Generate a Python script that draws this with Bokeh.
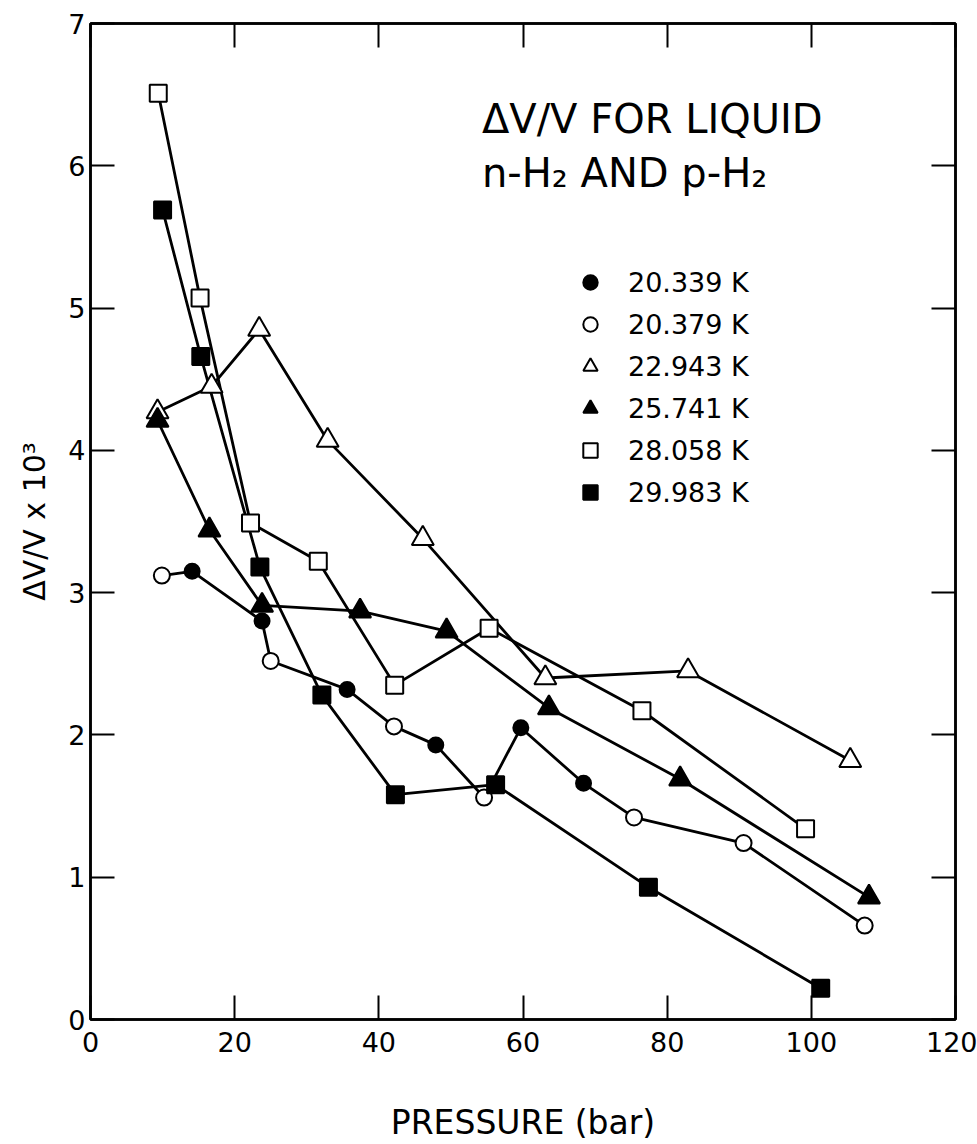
from bokeh.plotting import figure
from bokeh.models import (FixedTicker, LinearAxis, Range1d, Legend, LegendItem, Label,
                          CustomLabelingPolicy)
from bokeh.embed import file_html
from bokeh.resources import INLINE

FONT = "DejaVu Sans"

# pressure (bar) and dV/V x 10^3 for each isotherm
p_20339 = [14.1, 23.8, 35.6, 47.9, 59.7, 68.4]
v_20339 = [3.15, 2.80, 2.32, 1.93, 2.05, 1.66]

p_20379 = [9.9, 25.0, 42.1, 54.6, 75.4, 90.6, 107.4]
v_20379 = [3.12, 2.52, 2.06, 1.56, 1.42, 1.24, 0.66]

p_22943 = [9.3, 16.8, 23.4, 32.9, 46.1, 63.1, 82.9, 105.4]
v_22943 = [4.27, 4.45, 4.85, 4.07, 3.38, 2.40, 2.45, 1.82]

p_25741 = [9.3, 16.5, 23.8, 37.4, 49.4, 63.6, 81.8, 108.0]
v_25741 = [4.21, 3.44, 2.91, 2.87, 2.73, 2.19, 1.69, 0.86]

p_28058 = [9.4, 15.2, 22.2, 31.6, 42.2, 55.3, 76.5, 99.2]
v_28058 = [6.51, 5.07, 3.49, 3.22, 2.35, 2.75, 2.17, 1.34]

p_29983 = [10.0, 15.3, 23.5, 32.1, 42.3, 56.2, 77.4, 101.3]
v_29983 = [5.69, 4.66, 3.18, 2.28, 1.58, 1.65, 0.93, 0.22]

labels = ["20.339 K", "20.379 K", "22.943 K", "25.741 K", "28.058 K", "29.983 K"]
x_ticks = [0, 20, 40, 60, 80, 100, 120]
y_ticks = [0, 1, 2, 3, 4, 5, 6, 7]

p = figure(width=977, height=1144, x_range=Range1d(0, 120), y_range=Range1d(0, 7),
           output_backend="svg", toolbar_location=None,
           min_border_left=90, min_border_right=22, min_border_top=18, min_border_bottom=124)
p.grid.visible = False
p.outline_line_color = "black"
p.outline_line_width = 2.5
p.background_fill_color = "white"
p.border_fill_color = "white"

def style_axis(ax, show_labels=True):
    ax.axis_line_width = 2.5
    ax.axis_line_color = "black"
    ax.major_tick_in = 24
    ax.major_tick_out = 0
    ax.major_tick_line_width = 2
    ax.minor_tick_line_color = None
    ax.major_label_text_font = FONT
    ax.major_label_text_color = "black"
    ax.major_label_text_font_size = "27px"
    if not show_labels:
        ax.major_label_policy = CustomLabelingPolicy(code="return []")
        ax.major_label_standoff = 0

xa = p.xaxis[0]
ya = p.yaxis[0]
xa.ticker = FixedTicker(ticks=x_ticks)
ya.ticker = FixedTicker(ticks=y_ticks)
style_axis(xa)
style_axis(ya)
xa.major_label_standoff = 12
ya.major_label_standoff = 5
xa.axis_label = "PRESSURE (bar)"
xa.axis_label_text_font = FONT
xa.axis_label_text_font_size = "33px"
xa.axis_label_text_font_style = "normal"
xa.axis_label_text_color = "black"
xa.axis_label_standoff = 48
ya.axis_label = "ΔV/V x 10³"
ya.axis_label_text_font = FONT
ya.axis_label_text_font_size = "30px"
ya.axis_label_text_font_style = "normal"
ya.axis_label_text_color = "black"
ya.axis_label_standoff = 13

top = LinearAxis(ticker=FixedTicker(ticks=x_ticks))
right = LinearAxis(ticker=FixedTicker(ticks=y_ticks))
style_axis(top, False)
style_axis(right, False)
p.add_layout(top, "above")
p.add_layout(right, "right")

LW = 2.8
# the two ~20.3 K isotherms are joined by one curve
circ = sorted(zip(p_20339 + p_20379, v_20339 + v_20379))
p.line([c[0] for c in circ], [c[1] for c in circ], line_color="black", line_width=LW)
p.line(p_22943, v_22943, line_color="black", line_width=LW)
p.line(p_25741, v_25741, line_color="black", line_width=LW)
p.line(p_28058, v_28058, line_color="black", line_width=LW)
p.line(p_29983, v_29983, line_color="black", line_width=LW)

r1 = p.scatter(p_20339, v_20339, marker="circle", size=15, fill_color="black", line_color="black", line_width=2)
r2 = p.scatter(p_20379, v_20379, marker="circle", size=16, fill_color="white", line_color="black", line_width=2)
r3 = p.scatter(p_22943, v_22943, marker="triangle", size=22, fill_color="white", line_color="black", line_width=2)
r4 = p.scatter(p_25741, v_25741, marker="triangle", size=22, fill_color="black", line_color="black", line_width=2)
r5 = p.scatter(p_28058, v_28058, marker="square", size=17, fill_color="white", line_color="black", line_width=2)
r6 = p.scatter(p_29983, v_29983, marker="square", size=17, fill_color="black", line_color="black", line_width=2)

legend = Legend(items=[LegendItem(label=l, renderers=[r]) for l, r in zip(labels, [r1, r2, r3, r4, r5, r6])],
                location=(482, 509), orientation="vertical",
                glyph_width=36, glyph_height=36, spacing=6, label_standoff=20,
                padding=0, margin=0, border_line_color=None, background_fill_alpha=0,
                label_text_font=FONT, label_text_font_size="27px", label_text_color="black")
p.add_layout(legend, "center")

p.add_layout(Label(x=54.3, y=6.33, text="ΔV/V FOR LIQUID", text_font=FONT, text_font_size="40px",
                   text_baseline="alphabetic", text_color="black"))
p.add_layout(Label(x=54.3, y=5.95, text="n-H₂ AND p-H₂", text_font=FONT, text_font_size="40px",
                   text_baseline="alphabetic", text_color="black"))

open("out.html", "w").write(file_html(p, INLINE))
